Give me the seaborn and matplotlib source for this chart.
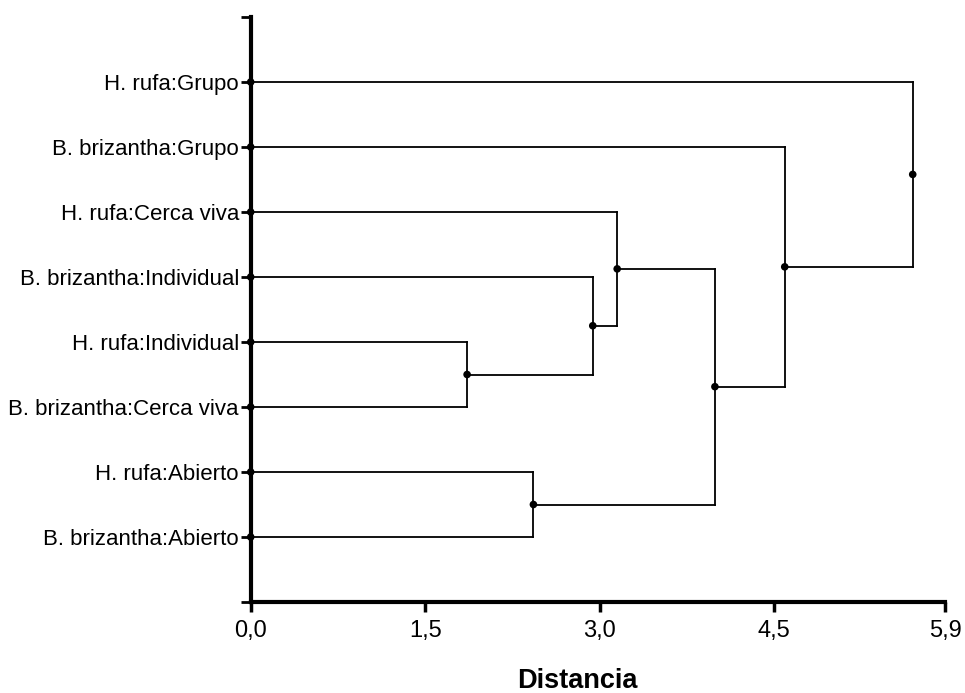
import matplotlib
matplotlib.use("Agg")
import matplotlib.pyplot as plt
import seaborn as sns
import pandas as pd

# ---- data ----
leaves = ["H. rufa:Grupo", "B. brizantha:Grupo", "H. rufa:Cerca viva",
          "B. brizantha:Individual", "H. rufa:Individual",
          "B. brizantha:Cerca viva", "H. rufa:Abierto", "B. brizantha:Abierto"]
# merges: (child_a, child_b, distance); leaves are 0..7, nodes are 8+k
merge_a = [4, 3, 2, 6, 10, 1, 0]
merge_b = [5, 8, 9, 7, 11, 12, 13]
merge_dist = [1.86, 2.94, 3.15, 2.43, 3.99, 4.59, 5.69]
x_max = 5.97
x_ticks = [0.0, 1.5, 3.0, 4.5, 5.97]
x_tick_labels = ["0,0", "1,5", "3,0", "4,5", "5,9"]
x_label = "Distancia"

sns.set_theme(style="white")
plt.rcParams["font.family"] = ["Liberation Sans", "DejaVu Sans"]

fig = plt.figure(figsize=(9.65, 6.93), dpi=100)
ax = fig.add_axes([250.7 / 965, 1 - 602 / 693, (945.3 - 250.7) / 965, (602 - 17) / 693])

# positions of every node
pos_x = {i: 0.0 for i in range(len(leaves))}
pos_y = {i: float(i + 1) for i in range(len(leaves))}
for k, (a, b, d) in enumerate(zip(merge_a, merge_b, merge_dist)):
    n = len(leaves) + k
    pos_x[n] = d
    pos_y[n] = (pos_y[a] + pos_y[b]) / 2
    for c in (a, b):
        ax.plot([pos_x[c], d], [pos_y[c], pos_y[c]], color="black", lw=1.3,
                solid_capstyle="projecting")
    ax.plot([d, d], [pos_y[a], pos_y[b]], color="black", lw=1.3,
            solid_capstyle="projecting")

nodes = pd.DataFrame({"x": [pos_x[n] for n in pos_x], "y": [pos_y[n] for n in pos_y]})
sns.scatterplot(data=nodes, x="x", y="y", ax=ax, color="black", s=30,
                edgecolor="none", zorder=5, clip_on=False)

ax.set_xlim(0, x_max)
ax.set_ylim(len(leaves) + 1, 0)
ax.set_xticks(x_ticks)
ax.set_xticklabels(x_tick_labels)
ax.set_yticks(range(0, len(leaves) + 2))
ax.set_yticklabels([""] + leaves + [""])
ax.set_xlabel("")
ax.set_ylabel("")

for s in ("top", "right"):
    ax.spines[s].set_visible(False)
for s in ("left", "bottom"):
    ax.spines[s].set_linewidth(3)
    ax.spines[s].set_color("black")

ax.tick_params(axis="x", which="major", direction="out", length=7, width=2.5,
               color="black", labelsize=17, pad=6, bottom=True)
ax.tick_params(axis="y", which="major", direction="out", length=7, width=2,
               color="black", labelsize=16, pad=1.5, left=True)
for t in ax.get_xticklabels() + ax.get_yticklabels():
    t.set_color("black")

fig.text(577 / 965, 1 - 681 / 693, x_label, ha="center", va="center",
         fontsize=19.5, fontweight="bold", color="black")

fig.savefig("out.png", dpi=100, facecolor="white")
